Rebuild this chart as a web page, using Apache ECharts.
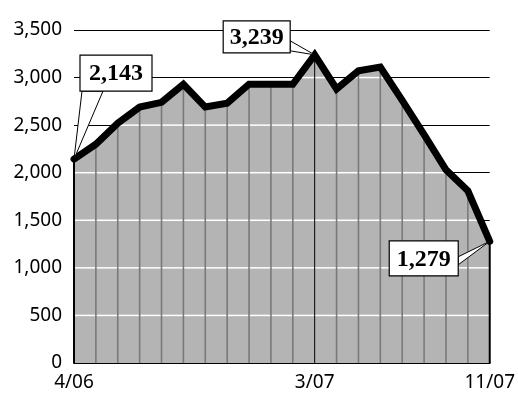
<!DOCTYPE html>
<html>
<head>
<meta charset="utf-8">
<script src="https://cdn.jsdelivr.net/npm/echarts@6/dist/echarts.min.js"></script>
<style>
  html, body { margin: 0; padding: 0; background: #fff; }
  #chart { width: 518px; height: 396px; }
</style>
</head>
<body>
<div id="chart"></div>
<script>
// monthly values, 4/06 .. 11/07
const months = [
  "4/06", "5/06", "6/06", "7/06", "8/06", "9/06", "10/06", "11/06", "12/06", "1/07",
  "2/07", "3/07", "4/07", "5/07", "6/07", "7/07", "8/07", "9/07", "10/07", "11/07",
];
const values = [
  2143, 2300, 2520, 2690, 2740, 2930, 2690, 2730, 2930, 2930,
  2930, 3239, 2880, 3070, 3110, 2760, 2400, 2030, 1810, 1279,
];
const shownMonths = ["4/06", "3/07", "11/07"];
const yTicks = [0, 500, 1000, 1500, 2000, 2500, 3000, 3500];

// points that get a boxed callout
const calloutIdx = [0, 11, 19];

const chart = echarts.init(document.getElementById("chart"));
const axisFont = "'Noto Sans', sans-serif";

// white grid lines + vertical month lines, clipped to the area under the line
function renderInner(params, api) {
  const i = api.value(0);
  const p = api.coord([i, values[i]]);
  const base = api.coord([i, 0]);
  const edge = i === 0 || i === months.length - 1;
  const children = [];

  if (i < values.length - 1) {
    const q = api.coord([i + 1, values[i + 1]]);
    const v0 = values[i];
    const v1 = values[i + 1];
    yTicks.forEach((g) => {
      if (g === 0 || Math.max(v0, v1) <= g) return;
      const yg = api.coord([i, g])[1];
      const t0 = v0 >= g ? 0 : (g - v0) / (v1 - v0);
      const t1 = v1 >= g ? 1 : (g - v0) / (v1 - v0);
      children.push({
        type: "line",
        shape: { x1: p[0] + t0 * (q[0] - p[0]), y1: yg, x2: p[0] + t1 * (q[0] - p[0]), y2: yg },
        style: { stroke: "#ffffff", lineWidth: 1.5 },
      });
    });
  }

  children.push({
    type: "line",
    shape: { x1: p[0], y1: base[1], x2: p[0], y2: p[1] },
    style: {
      stroke: i === 11 || edge ? "#000000" : "#7a7a7a",
      lineWidth: i === 11 ? 1 : edge ? 2 : 1.6,
    },
  });

  return { type: "group", children };
}

chart.setOption({
  animation: false,
  grid: { left: 74, right: 23, top: 30, bottom: 33 },
  xAxis: {
    type: "category",
    data: months,
    boundaryGap: false,
    axisLine: { show: true, lineStyle: { color: "#000", width: 2 } },
    axisTick: { show: false },
    axisLabel: {
      interval: (idx, val) => shownMonths.includes(val),
      color: "#000",
      fontFamily: axisFont,
      fontSize: 19,
      margin: 10,
    },
    splitLine: { show: false },
  },
  yAxis: {
    type: "value",
    min: 0,
    max: 3500,
    interval: 500,
    axisLine: { show: false },
    axisTick: { show: false },
    axisLabel: {
      color: "#000",
      fontFamily: axisFont,
      fontSize: 19,
      margin: 12,
      formatter: (v) => v.toLocaleString("en-US"),
    },
    splitLine: { show: true, lineStyle: { color: "#000", width: 1 } },
  },
  series: [
    {
      type: "line",
      data: values,
      symbol: "none",
      lineStyle: { width: 0 },
      areaStyle: { color: "#b4b4b4", opacity: 1 },
      z: 1,
    },
    {
      type: "custom",
      data: months.map((m, i) => [i, values[i]]),
      encode: { x: 0, y: 1 },
      renderItem: renderInner,
      z: 2,
    },
    {
      type: "line",
      data: values,
      symbol: "none",
      lineStyle: { color: "#000", width: 7, join: "miter", cap: "round" },
      z: 3,
    },
  ],
});

// callout boxes: offset of box centre from the point, box size, wedge anchors (box-local)
const boxStyle = {
  0: { dx: 42, dy: -86, w: 72, h: 36, a: [[2, 36], [23, 36]] },
  11: { dx: -58, dy: -18, w: 67, h: 32, a: [[67, 20], [67, 30]] },
  19: { dx: -66, dy: 17, w: 69, h: 35, a: [[69, 16], [69, 24]] },
};

const graphics = [];
calloutIdx.forEach((idx) => {
  const pt = chart.convertToPixel({ seriesIndex: 0 }, [idx, values[idx]]);
  const b = boxStyle[idx];
  const left = pt[0] + b.dx - b.w / 2;
  const top = pt[1] + b.dy - b.h / 2;
  graphics.push({
    type: "polygon",
    z: 100,
    shape: { points: [[left + b.a[0][0], top + b.a[0][1]], [left + b.a[1][0], top + b.a[1][1]], pt] },
    style: { fill: "#fff", stroke: "#000", lineWidth: 1 },
  });
  graphics.push({
    type: "rect",
    z: 101,
    shape: { x: left, y: top, width: b.w, height: b.h },
    style: { fill: "#fff", stroke: "#000", lineWidth: 1.2 },
  });
  graphics.push({
    type: "text",
    z: 102,
    x: left + b.w / 2,
    y: top + b.h / 2 + 1,
    style: {
      text: values[idx].toLocaleString("en-US"),
      fill: "#000",
      font: "bold 24px 'Liberation Serif', serif",
      align: "center",
      verticalAlign: "middle",
    },
  });
});
chart.setOption({ graphic: graphics });
</script>
</body>
</html>
